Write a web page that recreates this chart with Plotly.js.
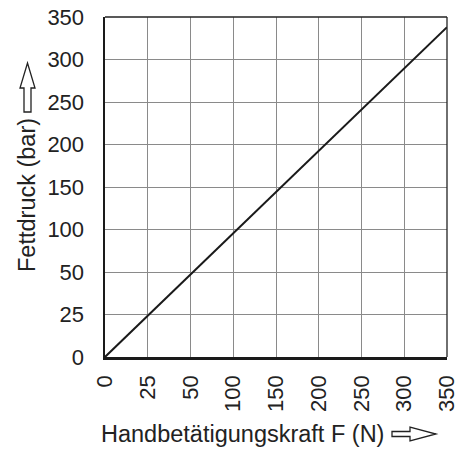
<!DOCTYPE html>
<html>
<head>
<meta charset="utf-8">
<script src="https://cdn.plot.ly/plotly-3.0.1.min.js"></script>
<style>html,body{margin:0;padding:0;background:#fff;}#chart{width:470px;height:452px;}</style>
</head>
<body>
<div id="chart"></div>
<script>
// Tick labels (equally spaced on the original chart)
var xTickLabels = [0, 25, 50, 100, 150, 200, 250, 300, 350];
var yTickLabels = [0, 25, 50, 100, 150, 200, 250, 300, 350];

// Series: hand actuation force (N) vs grease pressure (bar)
var force = [0, 350];
var pressure = [0, 338];

var xTitle = 'Handbetätigungskraft F (N)';
var yTitle = 'Fettdruck (bar)';

// map a labelled value onto the equally spaced tick index scale
function toIndex(v, ticks) {
  for (var i = 0; i < ticks.length - 1; i++) {
    if (v <= ticks[i + 1]) {
      return i + (v - ticks[i]) / (ticks[i + 1] - ticks[i]);
    }
  }
  return ticks.length - 1;
}
var idx = xTickLabels.map(function (_, i) { return i; });

var W = 470, H = 452, L = 105, R = 23, T = 17, B = 95;
var pw = W - L - R, ph = H - T - B;
function px(x) { return (x - L) / pw; }
function py(y) { return (H - B - y) / ph; }
function pathFromPixels(pts) {
  return pts.map(function (p, i) {
    return (i ? 'L' : 'M') + px(p[0]).toFixed(5) + ',' + py(p[1]).toFixed(5);
  }).join(' ') + ' Z';
}

// outline arrow next to x title (pointing right)
var xArrow = pathFromPixels([
  [392, 431.5], [410, 431.5], [410, 427], [436, 434], [410, 441], [410, 436.5], [392, 436.5]
]);
// outline arrow next to y title (pointing up)
var yArrow = pathFromPixels([
  [24, 112], [24, 88], [20, 88], [27.5, 63], [35, 88], [31, 88], [31, 112]
]);

var font = {family: '"Liberation Sans", Arial, sans-serif', size: 22, color: '#222'};
var titleFont = {family: '"Liberation Sans", Arial, sans-serif', size: 23.5, color: '#222'};

var trace = {
  x: force.map(function (v) { return toIndex(v, xTickLabels); }),
  y: pressure.map(function (v) { return toIndex(v, yTickLabels); }),
  type: 'scatter',
  mode: 'lines',
  line: {color: '#1a1a1a', width: 2},
  hoverinfo: 'skip'
};

var layout = {
  width: W, height: H,
  margin: {l: L, r: R, t: T, b: B, pad: 0},
  paper_bgcolor: '#fff', plot_bgcolor: '#fff',
  showlegend: false,
  font: font,
  xaxis: {
    range: [0, 8], tickmode: 'array', tickvals: idx, ticktext: xTickLabels.map(String),
    tickangle: -90, ticks: '', ticklabelstandoff: 7,
    showgrid: true, gridcolor: '#8a8a8a', gridwidth: 1,
    zeroline: false, showline: true, linecolor: '#1a1a1a', linewidth: 2.5,
    tickfont: font, fixedrange: true
  },
  yaxis: {
    range: [0, 8], tickmode: 'array', tickvals: idx, ticktext: yTickLabels.map(String),
    ticks: '', ticklabelstandoff: 14,
    showgrid: true, gridcolor: '#8a8a8a', gridwidth: 1,
    zeroline: false, showline: true, linecolor: '#1a1a1a', linewidth: 2.5,
    tickfont: font, fixedrange: true
  },
  annotations: [
    {text: xTitle, xref: 'paper', yref: 'paper', x: px(99), y: py(434),
     xanchor: 'left', yanchor: 'middle', showarrow: false, font: titleFont},
    {text: yTitle, xref: 'paper', yref: 'paper', x: px(27), y: py(195),
     xanchor: 'center', yanchor: 'middle', textangle: -90, showarrow: false, font: titleFont}
  ],
  shapes: [
    {type: 'line', xref: 'paper', yref: 'paper', x0: 0, x1: 1, y0: 1, y1: 1,
     line: {color: '#222', width: 1.3}},
    {type: 'line', xref: 'paper', yref: 'paper', x0: 1, x1: 1, y0: 0, y1: 1,
     line: {color: '#222', width: 1.3}},
    {type: 'path', xref: 'paper', yref: 'paper', path: xArrow,
     line: {color: '#222', width: 1.3}, fillcolor: '#fff'},
    {type: 'path', xref: 'paper', yref: 'paper', path: yArrow,
     line: {color: '#222', width: 1.3}, fillcolor: '#fff'}
  ]
};

Plotly.newPlot('chart', [trace], layout, {displayModeBar: false, staticPlot: true});
</script>
</body>
</html>
